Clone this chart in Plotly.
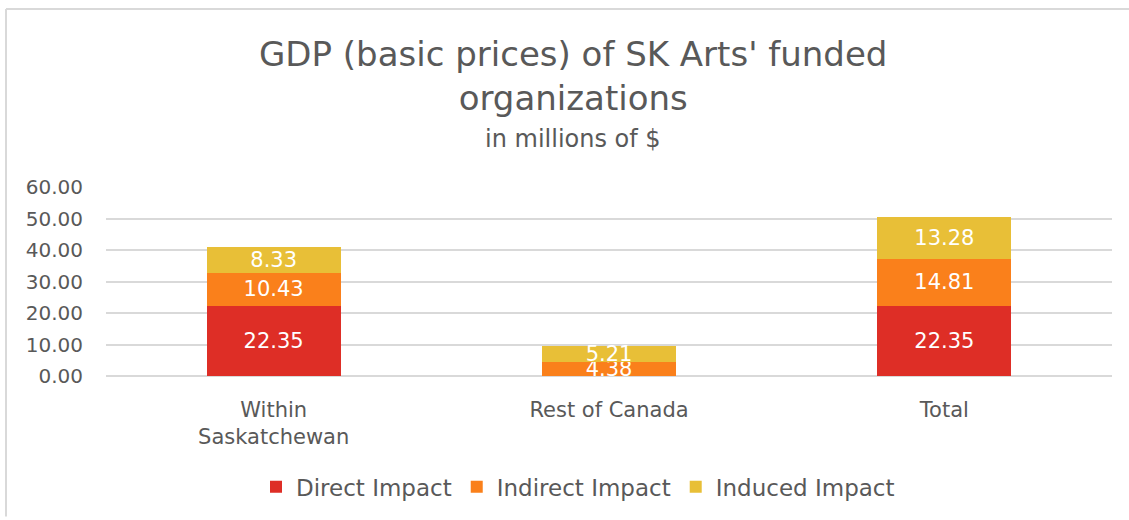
import plotly.graph_objects as go

categories = ["Within<br>Saskatchewan", "Rest of Canada", "Total"]
direct = [22.35, 0.0, 22.35]
indirect = [10.43, 4.38, 14.81]
induced = [8.33, 5.21, 13.28]
series_names = ["Direct Impact", "Indirect Impact", "Induced Impact"]
colors = ["#DE2E26", "#FA801B", "#E8BF37"]
y_ticks = [0, 10, 20, 30, 40, 50, 60]

FONT = "DejaVu Sans"
GRAY = "#595959"

fig = go.Figure()
for name, vals, col in zip(series_names, [direct, indirect, induced], colors):
    fig.add_trace(go.Bar(
        x=categories, y=vals, name=name, marker=dict(color=col, line=dict(width=0)),
        text=[f"{v:.2f}" if v else "" for v in vals],
        textposition="inside", insidetextanchor="middle", constraintext="none",
        textfont=dict(color="white", size=21, family=FONT),
        hoverinfo="skip",
    ))

W, H = 1129, 520
L, R, T, B = 106, 17, 187, 142
pw, ph = W - L - R, H - T - B

def px(x):
    return (x - L) / pw

def py(y):
    return (H - B - y) / ph

fig.update_layout(
    width=W, height=H, barmode="stack", bargap=0.6,
    margin=dict(l=L, r=R, t=T, b=B, pad=0),
    paper_bgcolor="white", plot_bgcolor="white",
    font=dict(family=FONT, color=GRAY),
    showlegend=True,
    legend=dict(orientation="h", x=px(578), xanchor="center", y=py(490), yanchor="middle",
                font=dict(size=23, color=GRAY), traceorder="normal", itemwidth=30),
    xaxis=dict(showgrid=False, showline=False, ticks="", tickfont=dict(size=21, color=GRAY),
               ticklabelstandoff=19),
    yaxis=dict(range=[0, 60], tickvals=y_ticks, tickformat=".2f", showgrid=True,
               gridcolor="#D9D9D9", gridwidth=2, zeroline=True, zerolinecolor="#D9D9D9",
               zerolinewidth=2, showline=False, ticks="", tickfont=dict(size=20, color=GRAY),
               ticklabelstandoff=22),
    annotations=[
        dict(text="GDP (basic prices) of SK Arts' funded<br>organizations", x=px(573), y=py(75),
             xref="paper", yref="paper", showarrow=False, xanchor="center", yanchor="middle",
             font=dict(size=34, color=GRAY, family=FONT)),
        dict(text="in millions of $", x=px(573), y=py(138), xref="paper", yref="paper",
             showarrow=False, xanchor="center", yanchor="middle",
             font=dict(size=24, color=GRAY, family=FONT)),
    ],
    shapes=[
        dict(type="line", xref="paper", yref="paper", x0=px(6), x1=px(1129), y0=py(7), y1=py(7),
             line=dict(color="#D9D9D9", width=2)),
        dict(type="line", xref="paper", yref="paper", x0=px(6), x1=px(6), y0=py(7), y1=py(520),
             line=dict(color="#D9D9D9", width=2)),
    ],
)

fig.write_html("out.html", config={"displayModeBar": False},
               post_script="document.body.style.margin='0';document.body.style.overflow='hidden';")
